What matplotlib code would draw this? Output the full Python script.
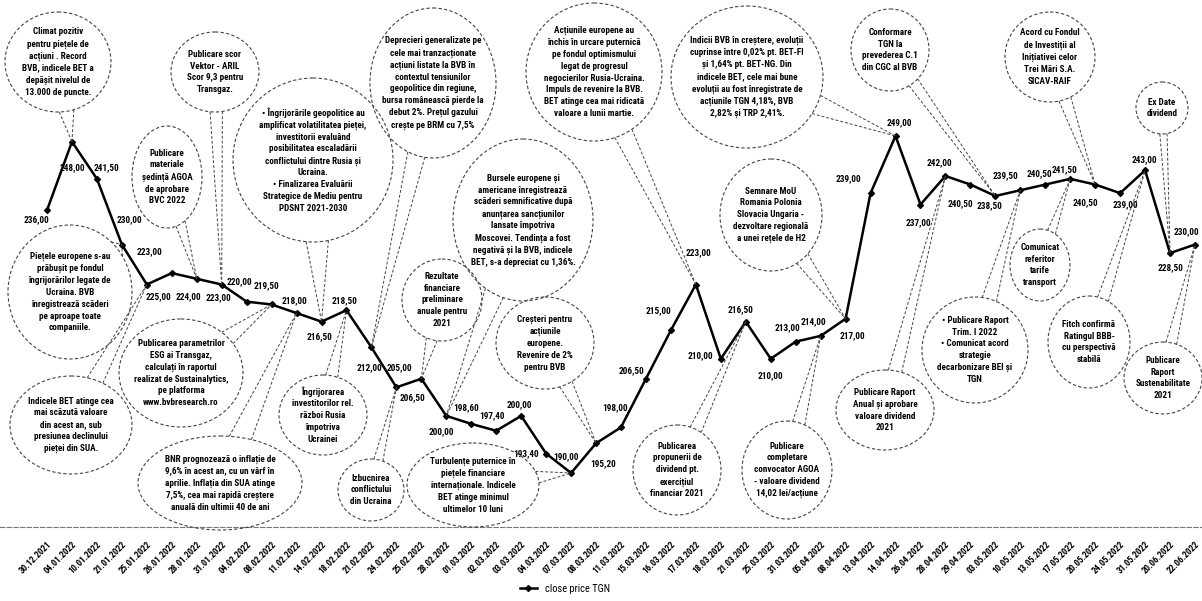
import numpy as np
import matplotlib.pyplot as plt
from matplotlib.patches import Ellipse

# date de tranzactionare (axa x)
dates = ['30.12.2021', '04.01.2022', '10.01.2022', '21.01.2022', '25.01.2022',
         '26.01.2022', '28.01.2022', '31.01.2022', '04.02.2022', '08.02.2022',
         '11.02.2022', '14.02.2022', '18.02.2022', '21.02.2022', '24.02.2022',
         '25.02.2022', '28.02.2022', '01.03.2022', '02.03.2022', '03.03.2022',
         '04.03.2022', '07.03.2022', '08.03.2022', '11.03.2022', '15.03.2022',
         '16.03.2022', '17.03.2022', '18.03.2022', '21.03.2022', '25.03.2022',
         '31.03.2022', '05.04.2022', '08.04.2022', '13.04.2022', '14.04.2022',
         '26.04.2022', '28.04.2022', '29.04.2022', '03.05.2022', '10.05.2022',
         '13.05.2022', '17.05.2022', '20.05.2022', '24.05.2022', '31.05.2022',
         '20.06.2022', '22.06.2022']

# pret de inchidere TGN
close_price = [236.00, 248.00, 241.50, 230.00, 223.00, 225.00, 224.00, 223.00,
               220.00, 219.50, 218.00, 216.50, 218.50, 212.00, 205.00, 206.50,
               200.00, 198.60, 197.40, 200.00, 193.40, 190.00, 195.20, 198.00,
               206.50, 215.00, 223.00, 210.00, 216.50, 210.00, 213.00, 214.00,
               217.00, 239.00, 249.00, 237.00, 242.00, 240.50, 238.50, 239.50,
               240.50, 241.50, 240.50, 239.00, 243.00, 228.50, 230.00]

# evenimente (text + indexul punctului la care se refera)
event_texts = [
    "Climat pozitiv\npentru piețele de\nacțiuni . Record\nBVB, indicele BET a\ndepășit nivelul de\n13.000 de puncte.",
    "Publicare scor\nVektor - ARIL\nScor 9,3 pentru\nTransgaz.",
    "Publicare\nmateriale\nședință AGOA\nde aprobare\nBVC 2022",
    "Piețele europene s-au\nprăbușit pe fondul\nîngrijorărilor legate de\nUcraina. BVB\nînregistrează scăderi\npe aproape toate\ncompaniile.",
    "Indicele BET atinge cea\nmai scăzută valoare\ndin acest an, sub\npresiunea declinului\npieței din SUA.",
    "Publicarea parametrilor\nESG ai Transgaz,\ncalculați în raportul\nrealizat de Sustainalytics,\npe platforma\nwww.bvbresearch.ro",
    "BNR prognozează o inflație de\n9,6% în acest an, cu un vârf în\naprilie. Inflația din SUA atinge\n7,5%, cea mai rapidă creștere\nanuală din ultimii 40 de ani",
    "• Îngrijorările geopolitice au\namplificat volatilitatea pieței,\ninvestitorii evaluând\nposibilitatea escaladării\nconflictului dintre Rusia și\nUcraina.\n• Finalizarea Evaluării\nStrategice de Mediu pentru\nPDSNT 2021-2030",
    "Deprecieri generalizate pe\ncele mai tranzacționate\nacțiuni listate la BVB în\ncontextul tensiunilor\ngeopolitice din regiune,\nbursa românească pierde la\ndebut 2%. Prețul gazului\ncrește pe BRM cu 7,5%",
    "Îngrijorarea\ninvestitorilor rel.\nrăzboi Rusia\nîmpotriva\nUcrainei",
    "Izbucnirea\nconflictului\ndin Ucraina",
    "Rezultate\nfinanciare\npreliminare\nanuale pentru\n2021",
    "Bursele europene și\namericane înregistrează\nscăderi semnificative după\nanunțarea sancțiunilor\nlansate împotriva\nMoscovei. Tendința a fost\nnegativă și la BVB, indicele\nBET, s-a depreciat cu 1,36%.",
    "Acțiunile europene au\nînchis în urcare puternică\npe fondul optimismului\nlegat de progresul\nnegocierilor Rusia-Ucraina.\nImpuls de revenire la BVB.\nBET atinge cea mai ridicată\nvaloare a lunii martie.",
    "Creșteri pentru\nacțiunile\neuropene.\nRevenire de 2%\npentru BVB",
    "Turbulențe puternice în\npiețele financiare\ninternaționale. Indicele\nBET atinge minimul\nultimelor 10 luni",
    "Publicarea\npropunerii de\ndividend pt.\nexercițiul\nfinanciar 2021",
    "Publicare\ncompletare\nconvocator AGOA\n- valoare dividend\n14,02 lei/acțiune",
    "Semnare MoU\nRomania Polonia\nSlovacia Ungaria -\ndezvoltare regională\na unei rețele de H2",
    "Indicii BVB în creștere, evoluții\ncuprinse între 0,02% pt. BET-FI\nși 1,64% pt. BET-NG. Din\nindicele BET, cele mai bune\nevoluții au fost înregistrate de\nacțiunile TGN 4,18%, BVB\n2,82% și TRP 2,41%.",
    "Conformare\nTGN la\nprevederea C.1\ndin CGC al BVB",
    "Publicare Raport\nAnual și aprobare\nvaloare dividend\n2021",
    "• Publicare Raport\nTrim. I 2022\n• Comunicat acord\nstrategie\ndecarbonizare BEI și\nTGN",
    "Comunicat\nreferitor\ntarife\ntransport",
    "Acord cu Fondul\nde Investiții al\nInițiativei celor\nTrei Mări S.A.\nSICAV-RAIF",
    "Fitch confirmă\nRatingul BBB-\ncu perspectivă\nstabilă",
    "Ex Date\ndividend",
    "Publicare\nRaport\nSustenabilitate\n2021",
]
event_point = [1, 7, 6, 3, 4, 9, 10, 11, 13, 12, 14, 15, 16, 26, 22, 21,
               28, 31, 32, 34, 38, 36, 39, 41, 42, 44, 45, 46]

# pozitia bulelor (pixeli: cx, cy, latime, inaltime)
bubble_pos = [(58, 62, 106, 100), (215, 72, 88, 80), (167, 177, 70, 102),
              (70, 292, 124, 134), (71, 425, 122, 98), (181, 373, 124, 108),
              (220, 483, 164, 94), (313, 160, 160, 164), (433, 83, 126, 150),
              (323, 415, 88, 80), (371, 490, 66, 62), (442, 300, 80, 82),
              (523, 220, 140, 162), (594, 72, 136, 138), (545, 343, 98, 92),
              (473, 485, 132, 84), (677, 470, 88, 90), (787, 470, 90, 98),
              (771, 215, 102, 112), (747, 77, 152, 142), (890, 50, 78, 82),
              (885, 410, 98, 80), (975, 350, 106, 106), (1040, 265, 60, 72),
              (1050, 57, 90, 90), (1089, 342, 82, 92), (1162, 108, 52, 52),
              (1163, 378, 78, 72)]

# decalaj eticheta valoare (pixeli, dx dreapta, dy in jos)
label_off = [(-10, 9), (0, 26), (10, -11), (8, -25), (3, -33), (-13, 24), (-8, 18),
             (-3, 13), (-7, -20), (-5, -19), (-2, -12), (-2, 15), (-2, -10), (-2, 20),
             (3, -20), (-9, 19), (-5, 16), (-5, -16), (-4, -15), (-2, -11), (-20, 0),
             (-5, -16), (7, 20), (-6, -20), (-14, -8), (-12, -20), (3, -32), (-20, -3),
             (-5, -12), (0, 17), (-8, -14), (-7, -14), (7, 17), (-22, -14), (4, -13),
             (-2, 18), (-6, -13), (-10, 19), (-6, 10), (-15, -15), (-6, -11), (-6, -9),
             (-10, 18), (5, 12), (-1, -11), (1, 15), (-9, -13)]

narrow = ['Roboto Condensed', 'Liberation Sans Narrow', 'DejaVu Sans']

W, H = 1202, 601
fig = plt.figure(figsize=(W / 100, H / 100), dpi=100)

ax = fig.add_axes([0, 74 / H, 1, 527 / H])
x = np.arange(len(close_price))
ax.plot(x, close_price, color='black', lw=1.8, marker='D', markersize=3,
        label='close price TGN', zorder=5)

px_per_unit = 337 / 59
ax.set_ylim(190 - (527 - 473) / px_per_unit, 190 + 473 / px_per_unit)
ax.set_xlim(-47 / 24.957, 46 + 7 / 24.957)

for i, v in enumerate(close_price):
    dx, dy = label_off[i]
    ax.annotate(f"{v:.2f}".replace('.', ','), (i, v), xytext=(dx, -dy),
                textcoords='offset pixels', ha='center', va='center',
                fontsize=6.7, fontweight='bold', family=narrow,
                fontstretch='condensed', zorder=6)

ax.set_xticks(x)
ax.set_xticklabels(dates, rotation=45, ha='right', rotation_mode='anchor',
                   fontsize=6.5, fontweight='bold', family=narrow,
                   fontstretch='condensed')
ax.tick_params(axis='x', length=0, pad=9)
ax.set_yticks([])
for s in ['top', 'right', 'left']:
    ax.spines[s].set_visible(False)
ax.spines['bottom'].set_linestyle((0, (4, 2)))
ax.spines['bottom'].set_color('#777777')
ax.spines['bottom'].set_linewidth(0.8)
ax.patch.set_alpha(0)

# strat pentru bule in coordonate pixel
ov = fig.add_axes([0, 0, 1, 1], zorder=3)
ov.set_xlim(0, W)
ov.set_ylim(H, 0)
ov.axis('off')
ov.patch.set_alpha(0)

fig.canvas.draw()
for txt, idx, (cx, cy, w, h) in zip(event_texts, event_point, bubble_pos):
    disp = ax.transData.transform((idx, close_price[idx]))
    tx, ty = ov.transData.inverted().transform(disp)
    ov.add_patch(Ellipse((cx, cy), w, h, fill=False, ls=(0, (3, 2)),
                         lw=0.8, ec='#444444'))
    a, b = w / 2, h / 2
    th = np.arctan2((ty - cy) / b, (tx - cx) / a)
    for d in (-0.14, 0.14):
        bx = cx + a * np.cos(th + d)
        by = cy + b * np.sin(th + d)
        ov.plot([bx, tx], [by, ty], ls=(0, (3, 2)), lw=0.7, color='#444444')
    ov.text(cx, cy, txt, ha='center', va='center', fontsize=6.6,
            fontweight='bold', family=narrow, fontstretch='condensed',
            linespacing=1.4)

fig.legend(loc='center', bbox_to_anchor=(0.47, 0.02), frameon=False,
           handlelength=1.6, prop={'family': narrow, 'size': 7.5})

plt.savefig('out.png', dpi=100)
plt.close()
